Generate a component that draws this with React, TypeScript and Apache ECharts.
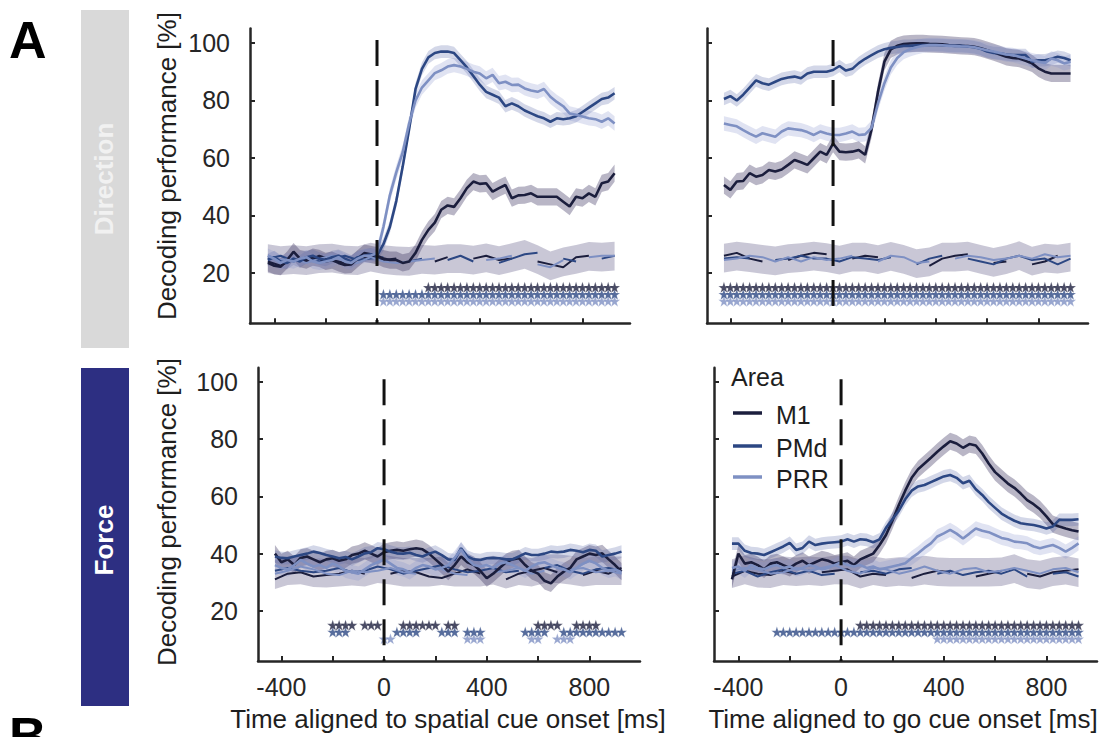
import React, { useEffect, useRef } from 'react';
import * as echarts from 'echarts';

// ---------- time bins ----------
const tFine = Array.from({ length: 55 }, (_, i) => -425 + 25 * i); // 25-ms bins
const tCoarse = Array.from({ length: 28 }, (_, i) => -425 + 50 * i); // 50-ms bins (shuffled controls)

// ---------- Direction, aligned to spatial cue ----------
const dirSpatialM1 = [23.5, 22.5, 22.2, 24.5, 27.4, 25, 24.5, 25.5, 25.1, 24, 24.5, 23.5, 22.8, 23, 25, 26.9, 26.5,
  26, 25, 24.5, 24.5, 23.5, 24, 27, 31.5, 35, 37.5, 42, 43.5, 43, 46, 49.5, 51.8, 51, 51.2, 48.3, 49.5, 50.6, 46, 47, 47.1, 47.7, 46.5, 46.5, 46.5, 46.5, 44.8, 43.1, 46.5, 46, 47.7, 46.5, 51.2, 51.8, 54.7];
const dirSpatialPMd = [24.5, 25.5, 24, 23.5, 25, 24, 25.5, 26, 25, 24.5, 25.5, 26, 25, 24, 25.5, 26, 26.5,
  26, 30, 36, 45, 57, 70, 84, 91, 95, 96.5, 97, 97, 96.5, 94, 91.5, 88.5, 85.5, 83, 82, 81, 78, 79, 78, 76.5, 75.5, 74.5, 73.8, 72.6, 73.8, 73.5, 73.8, 74.5, 76, 77.5, 79, 80.5, 81, 82.5];
const dirSpatialPRR = [26, 25, 23.5, 24.5, 24, 25, 25.5, 24, 23.5, 24, 24.5, 25.5, 24, 23.5, 25, 26, 26,
  27, 36, 47, 55, 62, 72, 80, 84.5, 87, 89.5, 90.5, 91.8, 92.3, 91.8, 91, 90, 89.4, 87.7, 88.9, 86, 86.5, 85.4, 85.5, 84.2, 83.5, 83, 84, 81.3, 79.5, 78, 75.5, 75, 74.4, 73.8, 73.5, 72.6, 73.8, 72];
const ctlDirSpatialM1 = [24, 22.5, 25, 24, 26, 24.5, 23.5, 25, 26, 24.5, 25, null, null, 24, 25.5, null, 25, 26, 24.5, 25, null, 24, 23, 22, 25.5, 26, null, 25.5];
const ctlDirSpatialPMd = [25, 26, 24, 25.5, 24, 25, 26, 24.5, 25, 25.5, null, 24, 25, null, 24.5, 26, 24, null, 23.5, 25, 26.5, 27, null, 25, 24, null, 25, 26];
const ctlDirSpatialPRR = [26, 24.5, 25, 23.5, 25, 26, 24, 23.5, 25.5, 24, 23.5, 24, 24.5, 25, null, 24, null, 24.5, 25, 26, null, 23, 22, 24.5, null, 25.5, 26, 26];
const sigDirSpatialM1 = [[200, 925]];
const sigDirSpatialPMd = [[25, 925]];
const sigDirSpatialPRR = [[25, 925]];

// ---------- Direction, aligned to go cue ----------
const dirGoM1 = [50.6, 48.9, 51.8, 52, 54.7, 53.5, 54.1, 55.8, 55.3, 56, 57.6, 59.3, 58.5, 57.6, 59.9, 62.2, 61.1,
  65, 62.2, 62, 62.2, 62.8, 61.1, 70, 83, 93.5, 97.8, 99, 99.6, 99.8, 99.9, 99.9, 99.7, 99.6, 99.5, 99.3, 99.2, 99, 98.9, 98.7, 98.2, 97.5, 96.8, 96, 95.2, 94.8, 94.6, 93.8, 92.9, 91.2, 90, 89.4, 89.4, 89.4, 89.4];
const dirGoPMd = [80.5, 81.5, 80, 82, 84.5, 87, 86, 85.5, 86.5, 87.5, 88, 88.3, 87.7, 89.4, 90, 90, 90,
  90.6, 92, 90.4, 91, 93, 94.5, 95.8, 97, 97.8, 98.3, 98.6, 99, 99, 99.2, 99.3, 99.3, 99.3, 99.2, 99.1, 99, 99, 98.8, 98.5, 98, 97, 96.5, 96.4, 96, 95.8, 95.8, 95.8, 93.5, 94, 94, 94.5, 95.2, 94.8, 94];
const dirGoPRR = [72, 71.5, 71, 69.7, 68.5, 67.4, 68.6, 68, 67.4, 69.2, 70.3, 70, 69.7, 69, 68, 69.2, 68.5,
  68, 68, 68.5, 69.2, 68, 68.2, 70.5, 79, 86, 91.5, 94.8, 96.8, 97.8, 98.5, 99, 99.3, 99.3, 99.2, 99, 99, 98.8, 98.8, 98.5, 98, 97.5, 97, 96.5, 96, 95.8, 95.2, 94.6, 94, 93.5, 93, 94.6, 94, 92.9, 93.5];
const ctlDirGoM1 = [26, 27, 25, 24, null, 24.5, 26, 27, 26.5, null, 25, 26, 25.5, null, 24, null, 22.5, 25, 26, 26.5, null, 23.5, 24, null, 23, 24, 26, null];
const ctlDirGoPMd = [25, 25.5, 25, null, 24.5, 25, 26, 25, 25, 24, 25.5, 25, 24.5, 25.5, null, 23, 25, 26, null, 25, 24, 23, 25, 26, 24.5, 25, 23, 25];
const ctlDirGoPRR = [24.5, 25, 26, 25.5, 24, 25.5, 24, 25.5, 24.5, 25, 26, null, 24, 26, 25.5, 23.5, 24, null, 25, 26, 25.5, 24.5, 25, 26, 25, 26.5, 25.5, 26];
const sigDirGoM1 = [[-425, 925]];
const sigDirGoPMd = [[-425, 925]];
const sigDirGoPRR = [[-425, 925]];

// ---------- Force, aligned to spatial cue ----------
const forceSpatialM1 = [40, 37, 38, 36, 38.5, 39, 38, 37, 38, 38.4, 37.5, 38, 39.5, 40, 41, 40, 39,
  40.5, 41, 41.3, 41, 41.5, 41.9, 41.5, 40, 38, 36, 33.7, 36, 39, 37, 36, 34, 31.4, 33, 35, 37, 38, 38.4, 36, 34, 33, 30.5, 29.6, 32, 33.7, 35, 38, 39, 40, 39.5, 40.1, 38, 36, 33.7];
const forceSpatialPMd = [39, 38.5, 38.4, 39, 39.5, 40, 40.7, 40.2, 39.5, 39, 38.4, 38.8, 38, 39, 40.1, 40.5, 41.9,
  41.5, 40.7, 40.1, 40, 40.3, 39.5, 39, 40, 40.7, 39.5, 38, 37.8, 41.9, 39, 38, 37.8, 38.4, 38.5, 38.4, 38, 38, 39, 40.1, 39.5, 39.5, 40, 40.7, 40.5, 40.7, 41.3, 41, 40.5, 41.3, 41, 39, 39.5, 40, 40.7];
const forceSpatialPRR = [36, 35, 34.5, 36, 37.8, 36.5, 35.5, 36, 35, 36.5, 35.5, 34, 33.5, 33, 34.5, 36, 37,
  38, 36.5, 35, 34.5, 33.5, 35, 36, 35.5, 34.5, 35, 36, 38.5, 41.5, 38, 36, 35.5, 36, 35, 36.5, 37, 36, 35, 34, 35.5, 36.6, 37, 36, 35, 34.5, 33.5, 35, 36.5, 37.5, 36.6, 35, 34, 34.5, 33.5];
const ctlForceSpatialM1 = [31, 33, 33.5, 32, 32.5, 33, 34, 33, null, 33, 34, 33.5, 32, 31.5, 33, 34.5, 33, null, 31, 33, 34, 35, 33.5, null, 32.5, 34, 33, 35];
const ctlForceSpatialPMd = [34, 35, 34, 33.5, 34, 35, 33.5, 34, 35.5, 34.5, 33, 34, 35, 36, 34.5, 33.5, 34, 35, 33.5, 34, null, 35, 36, 34, 33, 34.5, 35, 34];
const ctlForceSpatialPRR = [33, 34, 35.5, 34.5, 33, 32.5, 34, 33.5, 34, 35, 33.5, 33, null, 34.5, 33, 32.5, null, 33.5, 34, 35, 33, 34, null, 34.5, 35, 33.5, 34, 33];
const sigForceSpatialM1 = [[-200, -125], [-75, -25], [75, 200], [250, 275], [600, 675], [750, 825]];
const sigForceSpatialPMd = [[-200, -150], [50, 125], [225, 275], [325, 375], [550, 625], [700, 925]];
const sigForceSpatialPRR = [[0, 25], [325, 375], [575, 600], [675, 725]];

// ---------- Force, aligned to go cue ----------
const forceGoM1 = [31, 40, 36.5, 37, 36, 34.5, 36.5, 37, 36, 35, 36.5, 37.5, 36, 37, 38, 37.5, 36.5,
  37, 37.5, 36, 38, 39, 40, 43, 46.5, 51.5, 57, 62, 66.5, 69.5, 71.5, 73.5, 75.6, 77.5, 79.3, 78.5, 77, 78.3, 77.8, 75, 71.5, 68.5, 66.5, 64.5, 63, 61, 58.7, 57.3, 55.5, 53, 50.3, 49.5, 48.8, 48.2, 47.7];
const forceGoPMd = [43.5, 43.5, 41, 40.2, 40, 39.5, 40.5, 41.5, 42.5, 43.8, 41.3, 42, 44.2, 43, 43.5, 43.8, 44,
  44.2, 45, 44.2, 45, 44.8, 44, 45, 49, 52, 55, 59, 62, 63.5, 64, 65, 66, 67, 67.5, 66.5, 64.6, 65.5, 62.5, 60.5, 58, 56, 54, 52.7, 51.5, 50.6, 50.3, 50, 49.5, 48.8, 49.5, 51.8, 51.8, 51.8, 52];
const forceGoPRR = [35, 35.5, 34, 36, 35, 34.5, 35.5, 36, 35, 35.5, 34.5, 35, 36, 35.5, 34.5, 35, 36,
  37, 36, 35.5, 36, 35, 35.5, 34.5, 35, 35.5, 36, 36.6, 38.5, 40.1, 42, 43.6, 46, 47.1, 48.3, 47, 45.3, 47, 48.8, 48, 47.5, 46.5, 45.5, 45, 44.2, 44, 43.6, 42.5, 41.9, 42.5, 43, 42, 40.7, 42, 43.6];
const ctlForceGoM1 = [32, 34, 33, 32.5, 34, 33, null, 33.5, 34, 34.5, 32, 33, 32.5, null, 31.5, 33, 34, 33.5, null, 32, 33, 34, null, 33, 32, 33.5, 34, 34.5];
const ctlForceGoPMd = [33, 34, 32, 33.5, 34.5, 33, 34, 32.5, 33, null, 33.5, 34, 33, 34.5, 35, null, 33, 34, 32.5, 33.5, 34, 33, 34.5, 32, null, 33, 33.5, 32];
const ctlForceGoPRR = [34, 35, 34.5, 33, 33.5, 35, 34, 35, 36, 34, 33, 35, 34.5, 33, 34, 35.5, 34, 33, 34.5, 35, 33.5, 34, 35, 34, 33, 34.5, 35, 33.5];
const sigForceGoM1 = [[75, 925]];
const sigForceGoPMd = [[-250, 925]];
const sigForceGoPRR = [[375, 925]];

// ---------- categories / ticks ----------
const areaNames = ['M1', 'PMd', 'PRR'];
const xTicks = [-400, -200, 0, 200, 400, 600, 800];
const xTickLabels = [-400, 0, 400, 800];
const yTicks = [20, 40, 60, 80, 100];
const ciHalf = [3, 2.2, 2.5];
const ctrlHalf = 5;
const starLevels = [15, 12.6, 10.2];
const cueTime = 0;
const cueTop = 101;

// ---------- styles ----------
const FONT = 'Liberation Sans';
const areaColors = ['#1b1e3d', '#2c4783', '#7e90c3'];
const bandColors = ['rgba(70,64,105,0.38)', 'rgba(80,96,165,0.25)', 'rgba(130,145,205,0.25)'];
const ctrlBandColor = 'rgba(105,100,140,0.36)';
const starPath = 'path://M50,0 L61.8,35.1 L98.9,35.1 L69,56.8 L80.4,91.9 L50,70.2 L19.6,91.9 L31,56.8 L1.1,35.1 L38.2,35.1 Z';
const Y_MIN = 2.5;
const Y_MAX = 105;

const panels = [
  { main: [dirSpatialM1, dirSpatialPMd, dirSpatialPRR], ctrl: [ctlDirSpatialM1, ctlDirSpatialPMd, ctlDirSpatialPRR], sig: [sigDirSpatialM1, sigDirSpatialPMd, sigDirSpatialPRR] },
  { main: [dirGoM1, dirGoPMd, dirGoPRR], ctrl: [ctlDirGoM1, ctlDirGoPMd, ctlDirGoPRR], sig: [sigDirGoM1, sigDirGoPMd, sigDirGoPRR] },
  { main: [forceSpatialM1, forceSpatialPMd, forceSpatialPRR], ctrl: [ctlForceSpatialM1, ctlForceSpatialPMd, ctlForceSpatialPRR], sig: [sigForceSpatialM1, sigForceSpatialPMd, sigForceSpatialPRR] },
  { main: [forceGoM1, forceGoPMd, forceGoPRR], ctrl: [ctlForceGoM1, ctlForceGoPMd, ctlForceGoPRR], sig: [sigForceGoM1, sigForceGoPMd, sigForceGoPRR] },
];

const grids = [
  { left: 250, top: 28.6, width: 380, height: 294.7, xmin: -494.5, xmax: 985 },
  { left: 707, top: 28.6, width: 381, height: 294.7, xmin: -491, xmax: 993 },
  { left: 258, top: 367.7, width: 382, height: 293.2, xmin: -491, xmax: 997 },
  { left: 714, top: 367.7, width: 383, height: 293.2, xmin: -495, xmax: 997 },
];

function buildOption() {
  const series: any[] = [];
  // confidence band drawn as one polygon through the axes' own coordinate system
  const addBand = (gi: number, ts: number[], vals: number[], half: number, color: string) => {
    const bandData = ts.map((t, i) => [t, vals[i] - half, vals[i] + half]);
    series.push({
      type: 'custom', xAxisIndex: gi, yAxisIndex: gi, silent: true, z: 1,
      data: bandData,
      encode: { x: 0, y: [1, 2] },
      renderItem: (params: any, api: any) => {
        if (params.dataIndex !== 0) return null;
        const upper = bandData.map((d) => api.coord([d[0], d[2]]));
        const lower = bandData.map((d) => api.coord([d[0], d[1]])).reverse();
        return { type: 'polygon', shape: { points: upper.concat(lower) }, style: { fill: color } };
      },
    });
  };

  panels.forEach((p, gi) => {
    const ctrlMean = tCoarse.map((_, i) => {
      const vals = p.ctrl.map((a) => a[i]).filter((v) => v != null) as number[];
      return vals.reduce((s, v) => s + v, 0) / vals.length;
    });
    addBand(gi, tCoarse, ctrlMean, ctrlHalf, ctrlBandColor);
    p.main.forEach((arr, k) => addBand(gi, tFine, arr, ciHalf[k], bandColors[k]));
    p.ctrl.forEach((arr, k) => {
      series.push({
        type: 'line', xAxisIndex: gi, yAxisIndex: gi, symbol: 'none', connectNulls: false, z: 2,
        lineStyle: { color: areaColors[k], width: 2 },
        data: tCoarse.map((t, i) => [t, arr[i] == null ? '-' : arr[i]]),
      });
    });
    p.main.forEach((arr, k) => {
      series.push({
        type: 'line', xAxisIndex: gi, yAxisIndex: gi, symbol: 'none', name: areaNames[k], z: 2,
        lineStyle: { color: areaColors[k], width: 2.6 },
        data: tFine.map((t, i) => [t, arr[i]]),
      });
    });
    [2, 1, 0].forEach((k) => {
      const pts: number[][] = [];
      p.sig[k].forEach(([a, b]) => {
        for (let t = a; t <= b; t += 25) pts.push([t, starLevels[k]]);
      });
      series.push({
        type: 'scatter', xAxisIndex: gi, yAxisIndex: gi, symbol: starPath, symbolSize: 11,
        itemStyle: { color: areaColors[k], borderColor: 'rgba(255,255,255,0.5)', borderWidth: 0.5 },
        data: pts, z: 3,
      });
    });
    series.push({
      type: 'line', xAxisIndex: gi, yAxisIndex: gi, symbol: 'none', z: 4,
      lineStyle: { color: '#111', width: 3, type: [26, 14] },
      data: [[cueTime, cueTop], [cueTime, Y_MIN]],
    });
  });

  const axisLine = { show: true, onZero: false, lineStyle: { color: '#262626', width: 2.5 } };
  const xAxis = grids.map((g, gi) => ({
    type: 'value', gridIndex: gi, min: g.xmin, max: g.xmax,
    axisLine,
    axisTick: { show: true, inside: true, length: 5, customValues: xTicks, lineStyle: { color: '#262626', width: 2 } },
    axisLabel: {
      show: gi >= 2, customValues: xTickLabels, fontSize: 25, color: '#262626', margin: 14, fontFamily: FONT,
    },
    splitLine: { show: false },
  }));
  const yAxis = grids.map((g, gi) => ({
    type: 'value', gridIndex: gi, min: Y_MIN, max: Y_MAX,
    axisLine,
    axisTick: { show: true, inside: true, length: 5, customValues: yTicks, lineStyle: { color: '#262626', width: 2 } },
    axisLabel: {
      show: gi % 2 === 0, customValues: yTicks, fontSize: 25, color: '#262626', margin: 20, fontFamily: FONT,
    },
    splitLine: { show: false },
  }));

  const txt = (text: string, x: number, y: number, o: any = {}) => ({
    type: 'text', x, y, rotation: o.rotation || 0, z: 10,
    style: {
      text, fill: o.fill || '#1e1e1e', fontSize: o.size || 26, fontWeight: o.weight || 'normal', fontFamily: FONT,
      align: o.align || 'center', verticalAlign: 'middle', textAlign: o.align || 'center', textVerticalAlign: 'middle',
    },
  });

  const graphic: any[] = [
    { type: 'rect', shape: { x: 81, y: 10, width: 48, height: 338 }, style: { fill: '#d9d9d9' } },
    { type: 'rect', shape: { x: 81, y: 368, width: 48, height: 338 }, style: { fill: '#2d2f82' } },
    txt('Direction', 104, 179, { rotation: Math.PI / 2, weight: 'bold', fill: '#f1f1f1', size: 26 }),
    txt('Force', 104, 540, { rotation: Math.PI / 2, weight: 'bold', fill: '#ffffff', size: 26 }),
    txt('A', 9, 40, { align: 'left', weight: 'bold', size: 52, fill: '#000' }),
    txt('B', 9, 736, { align: 'left', weight: 'bold', size: 52, fill: '#000' }),
    txt('Decoding performance [%]', 167, 166, { rotation: Math.PI / 2 }),
    txt('Decoding performance [%]', 167, 512, { rotation: Math.PI / 2 }),
    txt('Time aligned to spatial cue onset [ms]', 448, 719),
    txt('Time aligned to go cue onset [ms]', 903, 719),
    txt('Area', 731, 377, { align: 'left', size: 25 }),
  ];
  [413, 446, 477].forEach((y, k) => {
    graphic.push({ type: 'line', z: 10, shape: { x1: 733, y1: y, x2: 762, y2: y }, style: { stroke: areaColors[k], lineWidth: 3.5 } });
    graphic.push(txt(areaNames[k], 776, y + 2, { align: 'left', size: 25 }));
  });

  return {
    animation: false,
    backgroundColor: '#ffffff',
    textStyle: { fontFamily: FONT },
    grid: grids.map((g) => ({ left: g.left, top: g.top, width: g.width, height: g.height })),
    xAxis,
    yAxis,
    series,
    graphic,
  };
}

export default function App() {
  const ref = useRef<HTMLDivElement>(null);
  useEffect(() => {
    if (!ref.current) return;
    const chart = echarts.init(ref.current, undefined, { renderer: 'svg' });
    chart.setOption(buildOption() as any);
    return () => chart.dispose();
  }, []);
  return <div ref={ref} style={{ position: 'absolute', left: 0, top: 0, width: 1110, height: 737 }} />;
}
